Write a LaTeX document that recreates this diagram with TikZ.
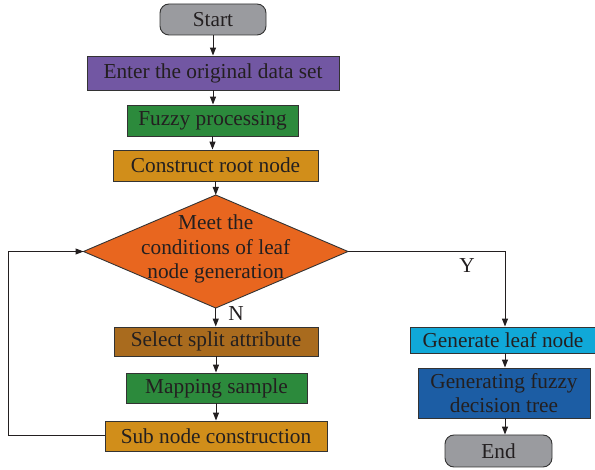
\documentclass[tikz,border=0pt]{standalone}
\usepackage{fontspec}
\setmainfont{Liberation Serif}
\usetikzlibrary{arrows.meta}

\definecolor{txt}{HTML}{231F20}
\definecolor{edge}{HTML}{333333}
\definecolor{cgray}{HTML}{9A9B9F}
\definecolor{cpurple}{HTML}{7257A3}
\definecolor{cgreen}{HTML}{2C8A3C}
\definecolor{cgold}{HTML}{D18E1A}
\definecolor{corange}{HTML}{E8661F}
\definecolor{cbrown}{HTML}{A96B1E}
\definecolor{ccyan}{HTML}{10A8D8}
\definecolor{cblue}{HTML}{1C5DA4}

\tikzset{
  base/.style={draw=edge, line width=0.9pt, text=txt, inner sep=0pt, align=center,
    font=\fontsize{21.3}{24.5}\selectfont},
  terminal/.style={base, rounded corners=9pt, fill=cgray},
  procbox/.style={base, rectangle},
  flow/.style={draw=txt, line width=1pt, -{Triangle[length=8pt,width=6pt]}},
  link/.style={draw=txt, line width=1pt},
  lbl/.style={text=txt, font=\fontsize{21.3}{24.5}\selectfont, inner sep=0pt}
}

\begin{document}
\begin{tikzpicture}[x=1pt,y=-1pt]
\useasboundingbox (0,0) rectangle (595,470);

% left column
\node[terminal, minimum width=106pt, minimum height=31pt] (start) at (213,19.5) {Start};
\node[procbox, fill=cpurple, minimum width=252pt, minimum height=34pt] (enter) at (213,73) {Enter the original data set};
\node[procbox, fill=cgreen, minimum width=171pt, minimum height=31pt] (fuzzy) at (212.5,120.5) {Fuzzy processing};
\node[procbox, fill=cgold, minimum width=205pt, minimum height=31pt] (root) at (215.5,165.5) {Construct root node};

% decision rhombus and its corners
\coordinate (dtop) at (215.75,195);
\coordinate (dleft) at (83.5,251.5);
\coordinate (dright) at (348,251.5);
\coordinate (dbot) at (215.75,308);
\path[base, fill=corange] (dleft) -- (dtop) -- (dright) -- (dbot) -- cycle;
\node[lbl, align=center] (dtext) at (215.75,249) {Meet the\\conditions of leaf\\node generation};

\node[procbox, fill=cbrown, minimum width=204pt, minimum height=29pt] (split) at (216,341.5) {Select split attribute};
\node[procbox, fill=cgreen, minimum width=181pt, minimum height=30pt] (map) at (216.5,388) {Mapping sample};
\node[procbox, fill=cgold, minimum width=222pt, minimum height=30pt] (sub) at (216,436) {Sub node construction};

% right column
\node[procbox, fill=ccyan, minimum width=186pt, minimum height=26pt] (leaf) at (503,340) {Generate leaf node};
\node[procbox, fill=cblue, minimum width=172pt, minimum height=50pt] (tree) at (504,393) {Generating fuzzy\\decision tree};
\node[terminal, minimum width=107pt, minimum height=32pt] (end) at (498.5,451) {End};

% connectors
\draw[flow] (start.south) -- (start.south |- enter.north);
\draw[flow] (enter.south) -- (enter.south |- fuzzy.north);
\draw[flow] (fuzzy.south) -- (fuzzy.south |- root.north);
\draw[flow] (root.south -| dtop) -- (dtop);
\draw[flow] (dbot) -- (dbot |- split.north);
\draw[flow] (split.south) -- (split.south |- map.north);
\draw[flow] (map.south -| sub.north) -- (sub.north);

\coordinate (rcorner) at (505,251.5);
\draw[link] (dright) -- (rcorner);
\draw[flow] (rcorner) -- (rcorner |- leaf.north);
\draw[flow] (leaf.south -| rcorner) -- (rcorner |- tree.north);
\draw[flow] (tree.south -| rcorner) -- (rcorner |- end.north);

\coordinate (lcorner) at (8.3,251.5);
\draw[link] (sub.west) -- (sub.west -| lcorner) -- (lcorner);
\draw[flow] (lcorner) -- (dleft);

% branch labels
\node[lbl] (ylab) at (467,266) {Y};
\node[lbl] (nlab) at (236,313.5) {N};
\end{tikzpicture}
\end{document}
